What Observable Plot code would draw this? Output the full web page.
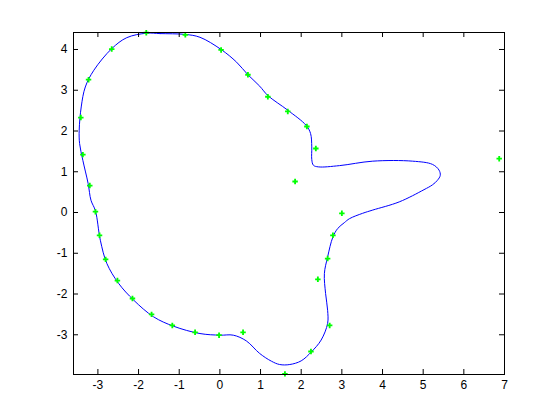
<!DOCTYPE html>
<html><head><meta charset="utf-8">
<script src="https://cdn.jsdelivr.net/npm/d3@7"></script>
<script src="https://cdn.jsdelivr.net/npm/@observablehq/plot@0.6"></script>
<style>html,body{margin:0;padding:0;background:#fff}</style>
</head><body><div id="chart"></div>
<script>
// Green data points
const ptX = [-1.81, -0.85, 0.03, 0.69, 1.18, 1.67, 2.14, 2.36, 1.85, 6.87, 3.00, 2.78, 2.65, 2.41, 2.70, 2.24, 1.60, 0.57, -0.02, -0.61, -1.17, -1.68, -2.15, -2.52, -2.81, -2.96, -3.06, -3.20, -3.37, -3.42, -3.23, -2.66];
const ptY = [4.41, 4.36, 3.99, 3.38, 2.84, 2.48, 2.11, 1.57, 0.76, 1.32, -0.02, -0.56, -1.13, -1.64, -2.77, -3.41, -3.96, -2.94, -3.01, -2.94, -2.77, -2.50, -2.11, -1.67, -1.15, -0.56, 0.02, 0.66, 1.42, 2.33, 3.26, 4.01];

// Blue fitted closed curve
const curveX = [-1.80, -1.47, -0.85, -0.49, 0.03, 0.41, 0.69, 0.98, 1.18, 1.67, 2.12, 2.23, 2.26, 2.26, 2.30, 2.42, 2.94, 3.76, 4.74, 5.23, 5.39, 5.42, 5.35, 5.23, 5.02, 4.41, 3.76, 3.51, 3.19, 3.06, 2.90, 2.78, 2.65, 2.57, 2.60, 2.65, 2.65, 2.49, 2.25, 2.00, 1.72, 1.47, 1.27, 0.98, 0.65, 0.33, 0.00, -0.49, -1.14, -1.63, -2.12, -2.49, -2.78, -2.94, -3.06, -3.17, -3.24, -3.37, -3.45, -3.46, -3.41, -3.31, -3.10, -2.66, -2.29];
const curveY = [4.40, 4.39, 4.37, 4.30, 4.00, 3.69, 3.38, 3.10, 2.87, 2.51, 2.14, 1.94, 1.61, 1.30, 1.16, 1.12, 1.15, 1.26, 1.26, 1.18, 1.04, 0.91, 0.79, 0.68, 0.56, 0.26, 0.06, -0.02, -0.15, -0.25, -0.39, -0.60, -1.09, -1.50, -1.99, -2.40, -2.72, -3.13, -3.42, -3.64, -3.73, -3.73, -3.65, -3.46, -3.15, -3.01, -3.01, -2.97, -2.79, -2.56, -2.15, -1.74, -1.25, -0.68, 0.04, 0.30, 0.71, 1.28, 1.69, 2.02, 2.59, 3.08, 3.49, 4.02, 4.29];

const xTicks = [-3, -2, -1, 0, 1, 2, 3, 4, 5, 6, 7];
const yTicks = [-3, -2, -1, 0, 1, 2, 3, 4];

const points = ptX.map((x, i) => ({x, y: ptY[i]}));
const curve = curveX.map((x, i) => ({x, y: curveY[i]}));

const W = 560, H = 420, mt = 32, mb = 46, ml = 73, mr = 56;
const ph = H - mt - mb, pw = W - ml - mr;
const tl = 5;

const chart = Plot.plot({
  width: W, height: H,
  marginTop: mt, marginBottom: mb, marginLeft: ml, marginRight: mr,
  style: {fontFamily: "'Liberation Sans', Arial, Helvetica, sans-serif", fontSize: "12px", background: "#fff", color: "#000"},
  x: {domain: [-3.6, 7]},
  y: {domain: [-3.975, 4.417]},
  marks: [
    Plot.line(curve, {x: "x", y: "y", curve: "catmull-rom-closed", stroke: "#0000ff", strokeWidth: 1}),
    Plot.dot(points, {x: "x", y: "y", symbol: "cross", r: 2.3, fill: "#00ff00", stroke: "none"}),
    Plot.tickX(xTicks, {x: d => d, stroke: "#000", insetTop: ph - tl}),
    Plot.tickX(xTicks, {x: d => d, stroke: "#000", insetBottom: ph - tl}),
    Plot.tickY(yTicks, {y: d => d, stroke: "#000", insetRight: pw - tl}),
    Plot.tickY(yTicks, {y: d => d, stroke: "#000", insetLeft: pw - tl}),
    Plot.frame({stroke: "#000"}),
    Plot.axisX(xTicks, {anchor: "bottom", tickSize: 0, tickPadding: 6, tickFormat: d => String(d), label: null}),
    Plot.axisY(yTicks, {anchor: "left", tickSize: 0, tickPadding: 6, tickFormat: d => String(d), label: null})
  ]
});
document.getElementById("chart").appendChild(chart);
</script>
</body></html>
